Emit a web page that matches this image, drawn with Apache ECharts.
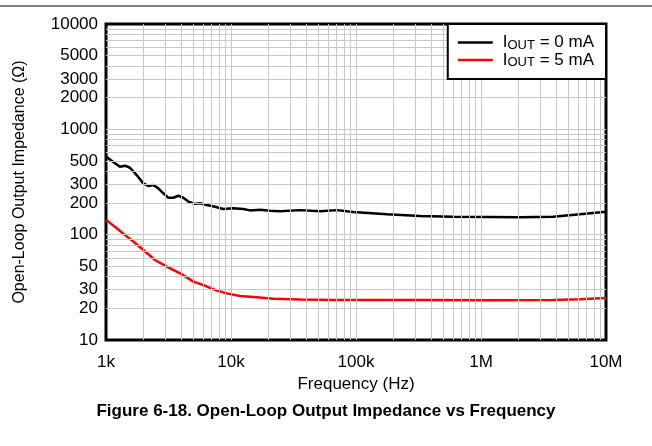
<!DOCTYPE html>
<html>
<head>
<meta charset="utf-8">
<script src="https://cdn.jsdelivr.net/npm/echarts@6/dist/echarts.min.js"></script>
<style>html,body{margin:0;padding:0;background:#fff}#c{width:652px;height:446px}</style>
</head>
<body>
<div id="c"></div>
<script>
// ---- data ----
const freq0 = [1000, 1043, 1180, 1294, 1419, 1556, 1760, 1988, 2180, 2390, 2620, 2873, 3150, 3454, 3787, 4152, 4552, 5152, 5649, 6393, 7447, 8673, 10430, 12540, 14190, 17060, 20510, 24660, 35650, 51500, 70500, 94600, 177000, 325000, 597000, 1120000, 2050000, 3770000, 6190000, 10000000];
const imp0 = [555, 531, 476, 442, 452, 432, 368, 307, 290, 296, 275, 247, 224, 224, 234, 224, 206, 196, 199, 191, 184, 175, 178, 175, 170, 172, 169, 167, 171, 167, 171, 164, 156, 150, 148, 147, 146, 148, 156, 165];
const freq1 = [1000, 1043, 1218, 1419, 1653, 1988, 2466, 3059, 3908, 4992, 6000, 7691, 9245, 11800, 16060, 21800, 35650, 65800, 325000, 1120000, 3770000, 6190000, 10000000];
const imp1 = [138, 133, 115, 99, 86, 71.4, 57.5, 49.7, 43, 35.8, 33.2, 29.4, 27.7, 26.2, 25.4, 24.6, 24.3, 24.0, 24.0, 23.9, 24.0, 24.4, 25.0];
const seriesNames = ['IOUT = 0 mA', 'IOUT = 5 mA'];
const xTickLabels = {1000: '1k', 10000: '10k', 100000: '100k', 1000000: '1M', 10000000: '10M'};
const yTickValues = [10, 20, 30, 50, 100, 200, 300, 500, 1000, 2000, 3000, 5000, 10000];
const xDecades = [1000, 10000, 100000, 1000000];
const yDecades = [10, 100, 1000];

const FONT = '"Liberation Sans", Arial, sans-serif';
const zip = (a, b) => a.map((v, i) => [v, b[i]]);
const HIDDEN = {color: 'rgba(0,0,0,0)'};

// grid lines (1..9 per decade) built via markLine
const gridItems = [];
xDecades.forEach(d => { for (let m = 1; m <= 9; m++) { const v = d * m; if (v !== 1000) gridItems.push({xAxis: v}); } });
yDecades.forEach(d => { for (let m = 1; m <= 9; m++) { const v = d * m;
  const item = {yAxis: v};
  if (yTickValues.includes(v)) item.label = {show: true, formatter: String(v)};
  if (v === 10) item.lineStyle = HIDDEN;
  gridItems.push(item);
} });
gridItems.push({yAxis: 10000, lineStyle: HIDDEN, label: {show: true, formatter: '10000'}});

const chart = echarts.init(document.getElementById('c'), null, {renderer: 'canvas'});
chart.setOption({
  animation: false,
  backgroundColor: '#fff',
  textStyle: {fontFamily: FONT},
  title: {
    text: 'Figure 6-18. Open-Loop Output Impedance vs Frequency',
    left: 'center', top: 398,
    textStyle: {fontFamily: FONT, fontSize: 17, fontWeight: 'bold', color: '#000'}
  },
  graphic: [{type: 'rect', left: 0, top: 5, shape: {width: 652, height: 2}, style: {fill: '#808080'}, silent: true}],
  grid: {left: 106, top: 24, right: 46, bottom: 106, show: true, borderColor: '#000', borderWidth: 3, backgroundColor: '#fff'},
  legend: {
    data: seriesNames.map(n => ({name: n, icon: 'rect'})),
    orient: 'vertical', right: 46, top: 24, z: 20,
    padding: [10, 12, 10, 10], itemGap: 0, itemWidth: 35, itemHeight: 2.5,
    borderColor: '#000', borderWidth: 2, backgroundColor: '#fff',
    formatter: name => '{m|I}{s|OUT}{m|' + name.slice(4) + '}',
    textStyle: {fontFamily: FONT, color: '#000', padding: [0, 0, 0, 5], rich: {
      m: {fontFamily: FONT, fontSize: 17, lineHeight: 18, color: '#000'},
      s: {fontFamily: FONT, fontSize: 13, lineHeight: 12, verticalAlign: 'bottom', color: '#000'}
    }}
  },
  xAxis: {
    type: 'log', logBase: 10, min: 1000, max: 10000000,
    axisLine: {show: false}, axisTick: {show: false}, splitLine: {show: false},
    axisLabel: {fontFamily: FONT, fontSize: 17, color: '#000', margin: 14, formatter: v => xTickLabels[Math.round(v)] || ''},
    name: 'Frequency (Hz)', nameLocation: 'middle', nameGap: 32,
    nameTextStyle: {fontFamily: FONT, fontSize: 17, color: '#000'}
  },
  yAxis: {
    type: 'log', logBase: 10, min: 10, max: 10000,
    axisLine: {show: false}, axisTick: {show: false}, splitLine: {show: false},
    axisLabel: {show: false},
    name: 'Open-Loop Output Impedance (Ω)', nameLocation: 'middle', nameGap: 78,
    nameTextStyle: {fontFamily: FONT, fontSize: 16, color: '#000'}
  },
  series: [
    {
      name: 'gridlines', type: 'line', data: [], z: 1, silent: true,
      markLine: {
        silent: true, symbol: ['none', 'none'], animation: false,
        lineStyle: {color: '#c8c8c8', width: 1, type: 'solid'},
        label: {show: false, position: 'start', distance: 8, fontFamily: FONT, fontSize: 17, color: '#000'},
        emphasis: {disabled: true},
        data: gridItems
      }
    },
    {name: seriesNames[1], type: 'line', data: zip(freq1, imp1), symbol: 'none', z: 3,
     lineStyle: {color: '#ff0000', width: 2.5}, itemStyle: {color: '#ff0000'}},
    {name: seriesNames[0], type: 'line', data: zip(freq0, imp0), symbol: 'none', z: 4,
     lineStyle: {color: '#000000', width: 2.5}, itemStyle: {color: '#000000'}}
  ]
});
</script>
</body>
</html>
